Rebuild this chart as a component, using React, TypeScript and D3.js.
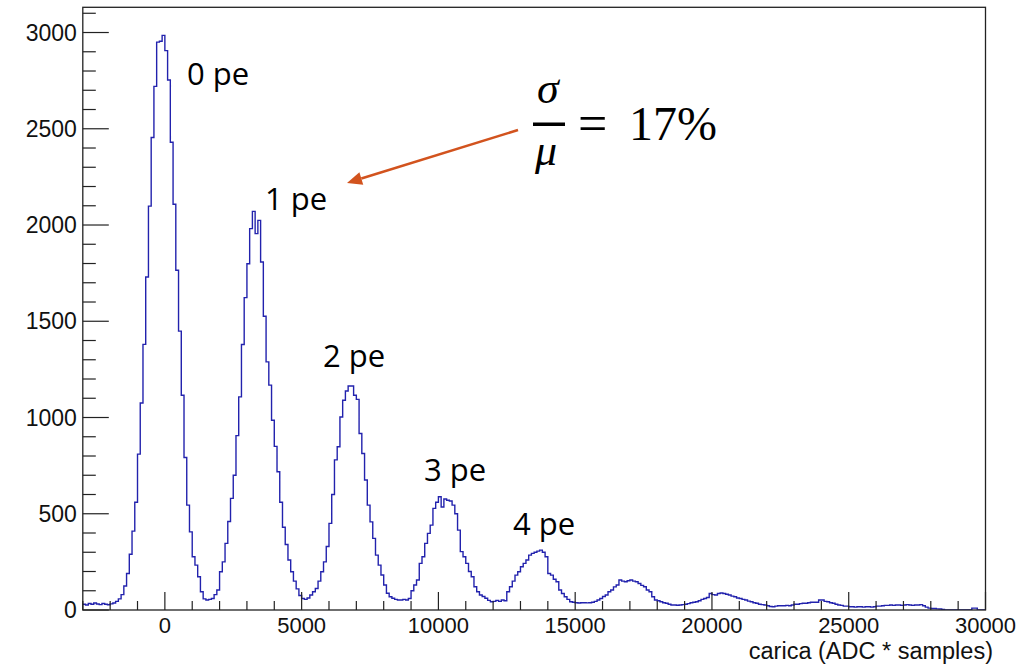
import React from "react";
import * as d3 from "d3";

// Histogram: bins of width 100 starting at -3000 (ADC * samples)
const BIN_START = -3000;
const BIN_WIDTH = 100;
const counts: number[] = [
  // -3000 .. -2100
  30, 26, 34, 30, 36, 31, 28, 34, 30, 27,
  // -2000 .. -1100
  32, 36, 45, 58, 80, 125, 190, 290, 410, 560,
  // -1000 .. -100
  810, 1075, 1380, 1730, 2098, 2455, 2720, 2950, 2955, 2985,
  // 0 .. 900
  2906, 2753, 2430, 2108, 1765, 1449, 1116, 792, 545, 406,
  // 1000 .. 1900
  277, 233, 173, 95, 58, 52, 55, 60, 80, 104,
  // 2000 .. 2900
  199, 250, 346, 460, 580, 700, 906, 1107, 1379, 1623,
  // 3000 .. 3900
  1799, 1981, 2071, 1955, 2024, 1808, 1526, 1289, 1168, 986,
  // 4000 .. 4900
  850, 718, 560, 430, 340, 260, 199, 150, 110, 75,
  // 5000 .. 5900
  60, 55, 62, 78, 95, 112, 150, 199, 250, 330,
  // 6000 .. 6900
  450, 600, 780, 848, 1003, 1090, 1138, 1164, 1164, 1116,
  // 7000 .. 7900
  1094, 917, 813, 675, 545, 458, 372, 285, 233, 182,
  // 8000 .. 8900
  130, 87, 69, 61, 55, 52, 52, 55, 52, 60,
  // 9000 .. 9900
  100, 130, 156, 242, 277, 346, 398, 441, 528, 560,
  // 10000 .. 10900
  588, 535, 577, 570, 566, 545, 500, 415, 303, 277,
  // 11000 .. 11900
  242, 200, 173, 121, 95, 78, 70, 61, 50, 43,
  // 12000 .. 12900
  45, 50, 45, 52, 48, 95, 121, 150, 181, 199,
  // 13000 .. 13900
  225, 242, 260, 285, 294, 300, 306, 311, 300, 277,
  // 14000 .. 14900
  190, 181, 160, 147, 104, 86, 69, 55, 43, 40,
  // 15000 .. 15900
  38, 36, 38, 38, 37, 38, 40, 45, 52, 60,
  // 16000 .. 16900
  70, 78, 95, 104, 120, 130, 156, 150, 147, 152,
  // 17000 .. 17900
  156, 150, 147, 138, 128, 121, 104, 95, 69, 52,
  // 18000 .. 18900
  48, 43, 38, 35, 30, 26, 26, 25, 26, 28,
  // 19000 .. 19900
  30, 33, 38, 40, 43, 48, 55, 60, 65, 86,
  // 20000 .. 20900
  80, 78, 86, 88, 86, 82, 78, 72, 69, 62,
  // 21000 .. 21900
  60, 55, 52, 46, 43, 38, 35, 30, 28, 26,
  // 22000 .. 22900
  22, 18, 17, 20, 22, 22, 22, 24, 22, 26,
  // 23000 .. 23900
  30, 30, 33, 35, 35, 38, 40, 40, 40, 52,
  // 24000 .. 24900
  52, 45, 43, 38, 35, 30, 26, 24, 20, 20,
  // 25000 .. 25900
  17, 17, 15, 17, 17, 15, 17, 17, 15, 17,
  // 26000 .. 26900
  20, 20, 22, 24, 24, 26, 24, 26, 26, 24,
  // 27000 .. 27900
  26, 28, 26, 24, 26, 26, 28, 22, 15, 10,
  // 28000 .. 28900
  8, 8, 6, 5, 3, 0, 0, 0, 0, 0,
  // 29000 .. 29900
  0, 0, 0, 0, 0, 10, 10, 0, 0, 0,
];

const xMajorTicks = [0, 5000, 10000, 15000, 20000, 25000, 30000];
const yMajorTicks = [0, 500, 1000, 1500, 2000, 2500, 3000];
const xDomain: [number, number] = [-3000, 30000];
const yDomain: [number, number] = [0, 3131];
const xTitle = "carica (ADC * samples)";
const peakLabels = ["0 pe", "1 pe", "2 pe", "3 pe", "4 pe"];
const ratioText = "17%";

const W = 1031;
const H = 665;
const plot = { left: 82.8, right: 985.5, top: 7.3, bottom: 610 };

export default function App() {
  const x = d3.scaleLinear().domain(xDomain).range([plot.left, plot.right]);
  const y = d3.scaleLinear().domain(yDomain).range([plot.bottom, plot.top]);

  const pts: [number, number][] = counts.map((c, i) => [BIN_START + i * BIN_WIDTH, c]);
  pts.push([BIN_START + counts.length * BIN_WIDTH, counts[counts.length - 1]]);
  const line = d3
    .line<[number, number]>()
    .x((d) => x(d[0]))
    .y((d) => y(d[1]))
    .curve(d3.curveStepAfter);
  const histPath = line(pts) || "";

  const xMinor = d3.range(-3000, 30001, 1000).filter((v) => v % 5000 !== 0);
  const yMinor = d3.range(0, yDomain[1], 100).filter((v) => v % 500 !== 0);

  const axisFont = "'Liberation Sans', Arial, Helvetica, sans-serif";
  const labelFont = "'Open Sans', 'Noto Sans', sans-serif";
  const mathFont = "'Liberation Serif', 'DejaVu Serif', serif";

  // peak label placement (annotation overlay, pixel positions)
  const labelPos: [number, number][] = [
    [187, 85],
    [265, 210],
    [323, 367],
    [424, 481],
    [513, 535],
  ];

  // arrow
  const arrowFrom: [number, number] = [518, 130];
  const arrowTip: [number, number] = [347, 183];
  const dx = arrowTip[0] - arrowFrom[0];
  const dy = arrowTip[1] - arrowFrom[1];
  const len = Math.hypot(dx, dy);
  const ux = dx / len;
  const uy = dy / len;
  const headLen = 15;
  const headHalf = 6.5;
  const bx = arrowTip[0] - ux * headLen;
  const by = arrowTip[1] - uy * headLen;
  const head = `${arrowTip[0]},${arrowTip[1]} ${bx - uy * headHalf},${by + ux * headHalf} ${bx + uy * headHalf},${by - ux * headHalf}`;
  const arrowColor = "#D2531E";

  return (
    <svg
      width={W}
      height={H}
      style={{ position: "absolute", left: 0, top: 0, background: "#fff" }}
    >
      <defs>
        <clipPath id="plotClip">
          <rect x={plot.left} y={plot.top} width={plot.right - plot.left} height={plot.bottom - plot.top} />
        </clipPath>
      </defs>

      {/* histogram */}
      <path d={histPath} fill="none" stroke="#2222ad" strokeWidth={1.4} clipPath="url(#plotClip)" />

      {/* frame */}
      <rect
        x={plot.left}
        y={plot.top}
        width={plot.right - plot.left}
        height={plot.bottom - plot.top}
        fill="none"
        stroke="#222"
        strokeWidth={1.3}
      />

      {/* y axis ticks */}
      {yMajorTicks.map((v) => (
        <g key={"ym" + v}>
          <line x1={plot.left} x2={plot.left + 26} y1={y(v)} y2={y(v)} stroke="#222" strokeWidth={1.2} />
          <text
            x={plot.left - 6}
            y={y(v) + 8}
            textAnchor="end"
            fontFamily={axisFont}
            fontSize={23}
            fill="#111"
          >
            {v}
          </text>
        </g>
      ))}
      {yMinor.map((v) => (
        <line key={"yn" + v} x1={plot.left} x2={plot.left + 13} y1={y(v)} y2={y(v)} stroke="#222" strokeWidth={1.2} />
      ))}

      {/* x axis ticks */}
      {xMajorTicks.map((v) => (
        <g key={"xm" + v}>
          <line x1={x(v)} x2={x(v)} y1={plot.bottom} y2={plot.bottom - 18} stroke="#222" strokeWidth={1.2} />
          <text x={x(v)} y={633} textAnchor="middle" fontFamily={axisFont} fontSize={22} fill="#111">
            {v}
          </text>
        </g>
      ))}
      {xMinor.map((v) => (
        <line key={"xn" + v} x1={x(v)} x2={x(v)} y1={plot.bottom} y2={plot.bottom - 9} stroke="#222" strokeWidth={1.2} />
      ))}

      {/* x axis title */}
      <text x={993} y={659} textAnchor="end" fontFamily={axisFont} fontSize={23.5} fill="#111">
        {xTitle}
      </text>

      {/* peak labels */}
      {peakLabels.map((t, i) => (
        <text key={t} x={labelPos[i][0]} y={labelPos[i][1]} fontFamily={labelFont} fontSize={31} fill="#000">
          {t}
        </text>
      ))}

      {/* arrow */}
      <line x1={arrowFrom[0]} y1={arrowFrom[1]} x2={bx} y2={by} stroke={arrowColor} strokeWidth={2.5} />
      <polygon points={head} fill={arrowColor} />

      {/* sigma / mu = 17% */}
      <text x={537} y={103} fontFamily={mathFont} fontStyle="italic" fontSize={44} fill="#000">
        σ
      </text>
      <rect x={533} y={122.5} width={32} height={3.5} fill="#000" />
      <text x={535} y={165} fontFamily={mathFont} fontStyle="italic" fontSize={44} fill="#000">
        μ
      </text>
      <text x={578} y={141} fontFamily={mathFont} fontSize={52} fill="#000">
        =
      </text>
      <text x={629} y={140} fontFamily={mathFont} fontSize={48} fill="#000">
        {ratioText}
      </text>
    </svg>
  );
}
